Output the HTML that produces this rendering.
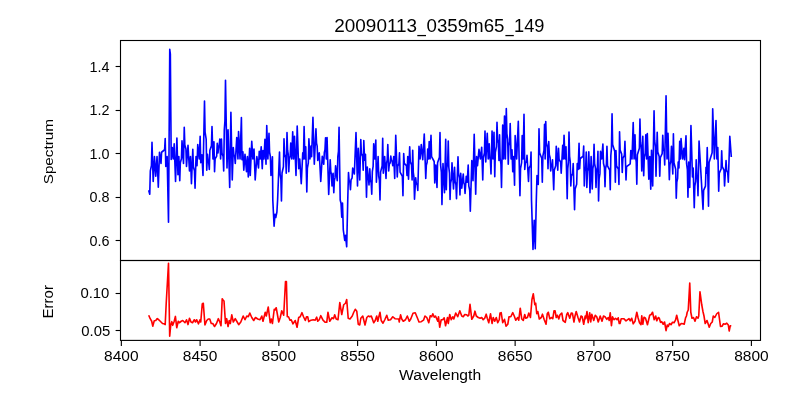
<!DOCTYPE html>
<html><head><meta charset="utf-8"><title>20090113_0359m65_149</title>
<style>
html,body{margin:0;padding:0;background:#fff;}
body{width:800px;height:400px;overflow:hidden;}
svg{display:block;will-change:transform;}
text{font-family:"Liberation Sans",sans-serif;fill:#000;}
</style></head><body>
<svg width="800" height="400" viewBox="0 0 800 400">
<rect x="0" y="0" width="800" height="400" fill="#fff"/>
<defs><clipPath id="c1"><rect x="120.5" y="40.5" width="640" height="220"/></clipPath><clipPath id="c2"><rect x="120.5" y="260.5" width="640" height="80"/></clipPath></defs>
<path clip-path="url(#c1)" d="M148.70,190.20 L149.75,194.25 L150.33,170.85 L151.42,165.65 L152.00,142.25 L153.20,181.50 L154.47,156.50 L155.75,176.25 L157.03,156.50 L158.30,187.20 L159.50,152.30 L161.00,163.50 L161.58,152.25 L164.62,149.75 L165.20,138.50 L165.80,166.50 L167.15,156.50 L168.50,222.20 L169.75,49.40 L170.35,54.00 L171.20,159.45 L172.25,147.50 L173.22,159.00 L174.20,143.75 L175.55,181.50 L176.90,138.05 L177.95,174.75 L178.85,156.50 L179.75,180.75 L180.33,162.75 L181.42,158.75 L182.00,140.75 L183.50,163.50 L184.25,127.25 L184.83,144.91 L185.92,148.84 L186.50,166.50 L188.00,145.25 L189.50,171.00 L190.47,156.50 L191.45,183.75 L192.80,149.30 L193.38,166.83 L194.47,170.72 L195.05,188.25 L196.03,156.50 L197.00,165.75 L197.75,144.50 L199.25,159.00 L200.15,136.25 L200.75,162.75 L201.88,154.75 L203.00,175.50 L204.50,101.00 L205.08,132.16 L206.17,139.09 L206.75,170.25 L207.50,154.25 L208.08,161.11 L208.72,162.64 L209.30,169.50 L209.88,150.15 L211.42,145.85 L212.00,126.50 L212.97,159.00 L213.95,141.80 L214.55,171.75 L215.13,158.95 L216.67,156.10 L217.25,143.30 L218.00,153.00 L218.58,146.68 L219.22,145.27 L219.80,138.95 L220.62,159.00 L221.45,138.95 L222.03,153.37 L223.12,156.58 L223.70,171.00 L224.28,130.16 L224.92,121.09 L225.50,80.25 L227.00,168.00 L228.05,129.80 L229.70,187.50 L230.90,112.25 L232.25,180.00 L233.30,147.50 L233.88,154.70 L234.67,156.30 L235.25,163.50 L236.75,137.45 L237.95,159.00 L238.55,131.45 L240.05,159.00 L241.40,117.50 L242.00,159.75 L242.90,151.75 L243.80,170.25 L245.00,154.25 L246.50,171.75 L247.40,156.50 L248.30,177.00 L249.65,148.25 L250.25,175.50 L251.75,141.20 L252.88,159.00 L254.00,149.00 L255.20,180.00 L256.85,156.50 L258.50,168.00 L259.25,151.25 L260.23,159.00 L261.20,146.75 L262.25,168.75 L263.00,150.50 L263.98,159.00 L264.95,139.25 L266.00,164.25 L266.75,125.45 L267.88,159.00 L269.00,133.25 L269.58,152.26 L270.37,156.49 L270.95,175.50 L272.45,156.75 L272.80,200.00 L274.10,226.30 L275.00,214.30 L275.80,217.50 L276.90,212.00 L277.60,200.00 L279.50,152.00 L280.08,174.05 L280.87,178.95 L281.45,201.00 L282.03,173.01 L283.42,166.79 L284.00,138.80 L284.58,154.30 L285.67,157.75 L286.25,173.25 L287.00,132.50 L287.58,150.16 L288.22,154.09 L288.80,171.75 L289.38,158.81 L290.17,155.94 L290.75,143.00 L291.73,159.00 L292.70,131.75 L293.60,159.00 L294.50,136.25 L296.00,175.50 L297.20,126.05 L298.70,168.75 L299.75,159.00 L301.25,183.75 L302.75,152.75 L303.43,159.00 L304.10,126.50 L304.93,159.00 L305.75,146.75 L306.80,192.00 L307.38,168.06 L308.32,162.74 L308.90,138.80 L309.95,159.00 L311.00,146.00 L311.60,156.75 L312.95,117.20 L314.30,164.25 L315.95,128.75 L316.53,143.04 L317.17,146.21 L317.75,160.50 L319.25,152.75 L320.75,181.50 L322.25,156.25 L323.75,164.25 L324.33,152.32 L324.97,149.68 L325.55,137.75 L326.30,159.00 L327.05,137.45 L328.70,194.55 L330.20,159.75 L330.78,171.56 L331.42,174.19 L332.00,186.00 L333.10,173.25 L333.80,192.75 L334.38,180.60 L335.02,177.90 L335.60,165.75 L337.25,180.75 L337.83,156.68 L338.47,151.32 L339.05,127.25 L340.20,200.00 L341.00,203.30 L341.75,217.30 L342.50,203.00 L343.30,230.00 L344.75,240.50 L345.50,235.30 L346.70,246.80 L347.75,200.00 L348.50,172.50 L349.08,180.26 L349.87,181.99 L350.45,189.75 L351.03,179.96 L352.12,177.79 L352.70,168.00 L354.35,174.00 L356.00,132.50 L357.50,186.00 L358.25,148.25 L359.75,180.00 L360.80,139.55 L361.38,153.37 L362.62,156.44 L363.20,170.25 L363.80,140.45 L364.62,160.25 L365.45,154.25 L366.50,197.25 L367.30,167.00 L367.88,175.10 L368.43,176.90 L369.00,185.00 L369.80,168.75 L370.38,180.22 L371.17,182.78 L371.75,194.25 L372.33,171.53 L373.12,166.47 L373.70,143.75 L374.75,159.00 L375.80,140.00 L376.40,182.25 L376.98,170.66 L377.55,168.09 L378.12,156.50 L378.70,176.05 L379.42,180.40 L380.00,199.95 L380.58,172.16 L382.12,165.99 L382.70,138.20 L383.30,173.25 L384.65,156.50 L386.00,178.50 L386.58,163.20 L387.22,159.80 L387.80,144.50 L388.70,171.00 L389.28,164.25 L390.22,162.75 L390.80,156.00 L391.38,160.39 L392.17,161.36 L392.75,165.75 L393.73,156.50 L394.70,178.50 L395.75,135.20 L397.25,177.00 L397.83,166.09 L398.92,163.66 L399.50,152.75 L400.08,172.10 L402.37,176.40 L402.95,195.75 L403.70,153.50 L404.28,163.40 L406.42,165.60 L407.00,175.50 L407.75,156.50 L408.50,179.25 L409.70,146.75 L410.28,161.71 L411.52,165.04 L412.10,180.00 L412.70,150.20 L413.28,172.25 L413.92,177.15 L414.50,199.20 L415.70,177.75 L416.28,183.49 L417.22,184.76 L417.80,190.50 L419.00,146.30 L420.12,159.00 L421.25,144.50 L422.75,159.75 L424.25,134.00 L425.75,178.50 L426.33,165.22 L427.12,162.28 L427.70,149.00 L428.45,159.00 L429.20,141.50 L430.10,159.00 L431.00,135.20 L431.58,156.71 L434.17,161.49 L434.75,183.00 L435.80,165.00 L437.00,187.50 L437.58,162.75 L439.42,157.25 L440.00,132.50 L440.58,164.94 L441.37,172.16 L441.95,204.60 L443.00,163.50 L444.50,192.75 L445.70,139.25 L446.30,189.75 L446.88,167.84 L447.67,162.97 L448.25,141.05 L448.83,167.35 L449.47,173.20 L450.05,199.50 L450.63,182.96 L451.42,179.29 L452.00,162.75 L453.50,189.00 L454.55,167.25 L455.13,181.43 L455.92,184.57 L456.50,198.75 L458.00,156.75 L458.58,173.96 L459.37,177.79 L459.95,195.00 L460.70,173.25 L461.75,188.25 L463.25,174.00 L463.83,182.78 L464.47,184.72 L465.05,193.50 L466.25,176.25 L467.23,182.25 L468.20,165.00 L468.78,185.79 L469.72,190.41 L470.30,211.20 L471.80,160.50 L473.00,180.75 L474.20,134.30 L475.70,194.25 L476.60,156.50 L477.50,165.75 L479.00,149.30 L480.35,159.00 L481.70,147.20 L482.75,180.00 L483.33,157.95 L484.42,153.05 L485.00,131.00 L485.75,162.00 L487.25,133.25 L488.23,159.00 L489.20,143.75 L489.78,157.36 L490.42,160.39 L491.00,174.00 L492.05,131.00 L493.02,159.00 L494.00,132.20 L494.75,176.70 L495.33,152.22 L496.42,146.78 L497.00,122.30 L497.58,139.49 L498.37,143.31 L498.95,160.50 L499.55,134.75 L500.13,158.49 L500.92,163.76 L501.50,187.50 L502.70,125.00 L503.60,159.00 L504.50,116.00 L505.40,159.00 L506.30,108.50 L506.88,133.59 L507.67,139.16 L508.25,164.25 L508.83,145.91 L509.62,141.84 L510.20,123.50 L511.10,159.00 L512.00,149.75 L512.75,171.75 L513.65,156.50 L514.55,185.25 L515.15,135.50 L516.65,159.00 L518.30,121.25 L519.95,195.75 L520.53,168.64 L521.62,162.61 L522.20,135.50 L523.10,159.00 L524.00,114.20 L524.75,169.50 L525.33,163.09 L526.42,161.66 L527.00,155.25 L528.50,181.50 L529.08,168.22 L530.47,165.28 L531.05,152.00 L531.50,200.00 L533.00,249.50 L534.20,220.30 L535.25,248.80 L536.30,200.00 L537.00,175.50 L538.25,184.50 L539.00,128.75 L539.58,152.82 L541.72,158.18 L542.30,182.25 L542.88,156.15 L543.97,150.35 L544.55,124.25 L545.15,159.00 L545.75,121.55 L546.33,142.79 L547.42,147.51 L548.00,168.75 L548.75,141.50 L549.33,154.78 L550.12,157.72 L550.70,171.00 L551.28,165.94 L551.92,164.81 L552.50,159.75 L553.70,189.75 L554.28,170.20 L555.67,165.85 L556.25,146.30 L557.75,170.25 L558.50,148.25 L559.08,159.50 L560.62,162.00 L561.20,173.25 L562.70,145.25 L563.38,159.00 L564.05,135.20 L565.02,159.00 L566.00,146.75 L567.20,198.75 L567.78,168.74 L568.42,162.06 L569.00,132.05 L569.58,156.33 L570.22,161.72 L570.80,186.00 L571.38,175.88 L572.62,173.62 L573.20,163.50 L574.55,209.70 L575.13,188.91 L576.67,184.29 L577.25,163.50 L578.15,169.50 L579.05,143.30 L579.65,168.75 L580.23,158.51 L583.12,156.24 L583.70,146.00 L584.30,186.00 L584.88,170.70 L585.67,167.30 L586.25,152.00 L586.85,187.50 L587.43,171.39 L588.22,167.81 L588.80,151.70 L590.00,192.75 L591.12,156.50 L592.25,189.00 L592.83,168.84 L593.47,164.36 L594.05,144.20 L594.63,163.69 L595.42,168.01 L596.00,187.50 L596.58,171.19 L597.37,167.56 L597.95,151.25 L598.55,201.00 L599.13,178.61 L599.92,173.64 L600.50,151.25 L601.70,159.00 L602.90,144.05 L603.48,163.27 L604.42,167.53 L605.00,186.75 L605.58,168.55 L606.37,164.50 L606.95,146.30 L607.53,165.85 L609.67,170.20 L610.25,189.75 L610.83,155.55 L611.47,147.95 L612.05,113.75 L612.63,144.57 L614.77,151.43 L615.35,182.25 L615.95,150.50 L616.53,165.80 L618.37,169.20 L618.95,184.50 L619.55,131.75 L620.13,150.09 L621.67,154.16 L622.25,172.50 L622.83,158.41 L624.37,155.28 L624.95,141.20 L626.00,180.00 L626.58,166.72 L630.22,163.78 L630.80,150.50 L632.00,159.00 L633.20,122.45 L634.10,159.00 L635.00,134.75 L635.58,157.00 L636.22,161.95 L636.80,184.20 L637.38,154.86 L639.37,148.34 L639.95,119.00 L640.53,142.40 L641.17,147.60 L641.75,171.00 L642.80,136.25 L643.70,175.80 L644.28,157.33 L645.22,153.22 L645.80,134.75 L646.55,159.00 L647.30,133.55 L648.80,179.25 L649.77,156.50 L650.75,189.30 L651.50,150.20 L652.70,186.00 L654.05,110.75 L654.63,140.22 L655.42,146.78 L656.00,176.25 L657.20,132.20 L657.78,152.02 L659.17,156.43 L659.75,176.25 L660.33,157.78 L662.17,153.67 L662.75,135.20 L663.33,148.61 L664.12,151.59 L664.70,165.00 L666.05,95.75 L667.02,159.00 L668.00,133.25 L669.35,179.70 L669.93,164.67 L670.87,161.33 L671.45,146.30 L672.80,174.00 L673.40,133.70 L673.98,162.77 L675.67,169.23 L676.25,198.30 L676.83,181.97 L677.62,178.34 L678.20,162.00 L678.95,168.00 L679.70,141.20 L680.38,159.00 L681.05,138.50 L682.55,159.00 L683.90,148.25 L684.50,159.75 L686.00,135.80 L686.58,163.45 L687.37,169.60 L687.95,197.25 L688.70,162.00 L689.75,187.50 L690.95,125.45 L692.45,177.00 L693.20,168.00 L694.25,207.75 L694.83,186.15 L695.62,181.35 L696.20,159.75 L696.78,175.95 L697.42,179.55 L698.00,195.75 L699.05,141.05 L703.02,209.32 L703.61,190.39 L705.44,186.18 L706.02,167.25 L706.62,173.25 L707.23,147.50 L708.50,206.25 L709.08,162.40 L712.12,152.65 L712.70,108.80 L714.35,159.00 L716.00,120.50 L716.90,159.00 L717.80,147.50 L718.70,191.25 L719.28,173.05 L721.12,169.00 L721.70,150.80 L722.28,166.64 L723.97,170.16 L724.55,186.00 L726.05,160.50 L726.63,170.29 L727.72,172.46 L728.30,182.25 L729.80,136.25 L731.30,157.00" fill="none" stroke="#0000ff" stroke-width="1.62" stroke-linejoin="round" stroke-linecap="butt"/>
<path clip-path="url(#c2)" d="M148.70,315.25 L150.20,318.70 L151.70,321.25 L152.75,326.20 L154.25,320.80 L155.75,320.50 L157.25,318.55 L158.75,319.75 L160.25,321.25 L162.50,323.50 L164.00,323.80 L165.20,324.55 L166.25,302.50 L168.50,263.30 L169.70,336.30 L170.75,325.00 L171.80,321.70 L172.70,325.30 L174.20,321.25 L175.40,316.45 L176.75,327.70 L178.25,321.25 L179.30,322.75 L181.25,321.25 L182.75,320.50 L185.00,322.75 L186.50,319.75 L188.00,324.55 L189.50,318.25 L191.00,322.00 L192.50,322.75 L194.30,319.75 L195.50,322.00 L196.70,319.75 L198.50,323.80 L200.00,319.75 L200.75,322.00 L202.25,304.00 L203.30,303.25 L204.95,325.00 L206.75,320.50 L208.25,319.00 L209.75,319.00 L211.25,323.50 L212.75,323.50 L214.55,326.50 L216.50,323.50 L218.30,318.70 L219.80,322.00 L221.00,325.75 L222.20,298.75 L223.25,300.25 L224.00,301.00 L225.50,323.50 L226.70,318.70 L228.05,326.50 L229.25,320.50 L230.30,323.50 L231.80,314.80 L233.30,322.00 L235.25,318.70 L237.20,322.00 L238.70,324.70 L240.80,322.00 L243.20,316.00 L245.00,319.75 L246.80,316.00 L248.30,316.75 L249.80,313.00 L251.75,317.50 L253.70,320.50 L255.50,317.50 L257.75,319.00 L260.00,319.75 L261.80,316.00 L263.00,321.25 L265.25,312.25 L266.30,316.00 L268.25,307.00 L270.20,322.75 L271.25,319.00 L272.45,323.50 L274.25,309.25 L275.00,310.00 L276.20,307.75 L278.75,322.00 L280.25,317.50 L281.75,310.75 L283.70,315.25 L285.50,281.50 L286.40,281.50 L287.30,316.75 L288.50,316.75 L290.00,320.20 L291.20,319.75 L293.00,323.80 L295.25,320.50 L297.05,327.25 L298.70,317.50 L300.20,316.75 L302.00,312.70 L303.50,316.75 L305.30,320.50 L306.50,316.75 L307.70,316.75 L308.75,321.70 L311.00,320.20 L313.25,319.75 L315.20,320.20 L316.70,317.20 L317.75,321.25 L319.25,319.75 L320.75,315.70 L323.00,320.20 L325.25,322.30 L326.75,322.30 L327.95,312.25 L329.75,321.25 L332.00,317.80 L333.50,318.70 L334.70,314.80 L336.20,319.00 L338.00,319.75 L339.80,302.50 L341.75,314.50 L343.70,304.75 L345.50,303.25 L346.70,299.50 L348.20,318.25 L350.00,319.00 L352.25,316.00 L353.75,312.25 L355.25,309.25 L356.75,311.20 L358.25,324.25 L359.75,325.00 L360.80,318.25 L362.75,316.00 L365.00,325.00 L366.80,317.50 L368.30,316.00 L369.80,316.75 L371.30,316.00 L373.70,322.75 L375.20,320.50 L376.70,316.00 L377.75,321.25 L380.00,312.25 L381.20,320.50 L383.00,323.20 L384.80,319.75 L386.75,315.25 L388.25,320.20 L390.50,319.75 L392.75,316.75 L395.00,318.70 L398.75,319.00 L399.20,322.00 L400.55,314.80 L401.75,319.00 L403.25,321.25 L405.50,319.75 L407.30,316.00 L409.25,321.25 L410.75,319.00 L413.00,313.30 L415.25,312.70 L417.20,317.50 L419.00,322.00 L421.25,321.70 L423.50,320.20 L425.00,316.00 L426.80,317.50 L428.75,322.75 L430.25,315.70 L431.75,316.75 L432.80,313.75 L434.30,317.20 L435.50,316.00 L437.75,321.25 L438.50,316.75 L439.70,327.25 L441.20,319.75 L442.70,319.75 L444.20,317.80 L445.55,325.75 L447.50,317.50 L448.25,323.50 L449.75,314.50 L451.25,319.75 L452.75,316.75 L453.80,319.00 L455.75,313.00 L457.70,316.75 L459.80,310.75 L461.75,316.00 L463.25,316.75 L464.75,314.50 L466.70,314.80 L467.75,316.00 L468.80,315.25 L470.00,304.30 L471.80,319.30 L473.75,316.00 L474.95,311.20 L476.30,316.00 L478.25,317.50 L480.20,318.25 L481.70,317.50 L483.20,319.75 L484.70,318.25 L486.20,314.20 L487.25,318.25 L488.75,322.75 L490.55,313.75 L492.05,323.50 L493.25,317.50 L494.75,321.25 L496.25,317.50 L497.75,322.75 L499.25,319.75 L500.00,313.00 L501.20,312.70 L502.70,322.75 L504.50,319.30 L506.00,326.20 L507.80,324.25 L509.00,316.75 L510.80,316.75 L512.75,312.70 L514.25,316.00 L515.75,320.20 L517.70,317.50 L518.75,320.20 L520.25,308.20 L521.75,319.00 L523.25,320.50 L524.75,314.50 L525.80,318.25 L527.45,317.50 L528.80,313.00 L530.45,317.50 L531.95,299.50 L533.30,293.80 L534.80,304.75 L535.70,303.25 L536.75,313.75 L537.80,311.50 L539.30,319.00 L541.25,317.50 L542.45,314.20 L544.25,319.75 L546.05,324.25 L547.25,313.75 L548.30,312.25 L549.80,318.70 L551.75,317.50 L552.80,318.70 L554.00,310.75 L555.05,310.75 L556.25,317.50 L557.45,315.25 L558.80,319.00 L560.00,314.80 L561.80,313.00 L563.00,320.50 L565.25,322.30 L566.75,314.50 L567.80,312.70 L569.75,318.25 L571.25,313.00 L572.45,313.30 L573.95,322.00 L575.00,316.00 L576.20,311.50 L578.00,317.50 L579.50,322.00 L581.00,316.00 L582.20,316.75 L583.70,324.25 L585.20,316.00 L585.80,318.70 L587.00,311.50 L588.20,322.75 L589.70,312.70 L590.75,322.00 L591.80,314.20 L593.75,320.50 L595.25,315.25 L596.75,316.75 L598.25,322.00 L600.20,316.00 L602.00,321.25 L603.50,316.00 L605.00,316.75 L606.80,319.30 L608.30,317.50 L609.20,320.50 L610.25,312.70 L611.45,325.75 L612.50,316.75 L614.00,319.75 L615.50,318.25 L617.00,319.75 L618.20,317.80 L619.25,323.50 L620.00,323.50 L621.20,318.70 L623.75,318.70 L626.00,320.80 L629.00,318.70 L630.20,320.80 L631.70,318.25 L633.20,323.80 L635.00,321.25 L636.80,312.25 L638.00,317.50 L639.50,322.75 L641.00,324.70 L641.75,315.70 L642.80,324.25 L644.00,317.20 L645.50,318.25 L647.45,324.70 L649.70,315.25 L651.20,314.50 L652.55,312.25 L654.20,319.75 L655.70,316.00 L656.75,320.80 L658.25,317.50 L659.30,318.25 L660.50,322.30 L661.70,321.70 L663.20,324.25 L664.55,322.00 L666.05,330.70 L667.25,325.00 L668.30,326.50 L669.50,323.50 L671.00,324.70 L672.50,322.30 L674.00,322.75 L675.50,320.20 L676.70,315.25 L677.75,319.75 L679.25,325.75 L681.20,323.50 L683.00,323.80 L684.20,324.25 L685.55,317.80 L686.45,316.00 L687.20,312.25 L688.25,310.00 L689.75,283.00 L690.80,312.25 L692.00,318.25 L693.50,317.50 L695.00,321.25 L696.50,316.75 L698.00,318.25 L698.75,316.00 L699.95,291.70 L701.75,304.75 L702.95,311.50 L704.00,316.00 L705.20,323.50 L707.00,320.50 L709.25,327.25 L710.75,323.50 L712.25,322.00 L713.30,316.00 L714.80,317.50 L716.75,313.75 L718.55,312.25 L720.50,326.50 L722.00,326.20 L723.50,323.80 L725.00,324.25 L726.80,323.20 L728.30,325.00 L729.20,331.00 L730.25,325.75 L731.30,325.75" fill="none" stroke="#ff0000" stroke-width="1.62" stroke-linejoin="round" stroke-linecap="butt"/>
<g stroke="#000" stroke-width="1.11" fill="none" stroke-linecap="square">
<rect x="120.5" y="40.5" width="640" height="220"/>
<rect x="120.5" y="260.5" width="640" height="79.9"/>
</g>
<g stroke="#000" stroke-width="1.11" fill="none">
<line x1="121.35" y1="340.4" x2="121.35" y2="345.9"/>
<line x1="200.11" y1="340.4" x2="200.11" y2="345.9"/>
<line x1="278.86" y1="340.4" x2="278.86" y2="345.9"/>
<line x1="357.62" y1="340.4" x2="357.62" y2="345.9"/>
<line x1="436.38" y1="340.4" x2="436.38" y2="345.9"/>
<line x1="515.13" y1="340.4" x2="515.13" y2="345.9"/>
<line x1="593.89" y1="340.4" x2="593.89" y2="345.9"/>
<line x1="672.64" y1="340.4" x2="672.64" y2="345.9"/>
<line x1="751.40" y1="340.4" x2="751.40" y2="345.9"/>
<line x1="115.6" y1="66.50" x2="120.5" y2="66.50"/>
<line x1="115.6" y1="110.50" x2="120.5" y2="110.50"/>
<line x1="115.6" y1="153.50" x2="120.5" y2="153.50"/>
<line x1="115.6" y1="197.50" x2="120.5" y2="197.50"/>
<line x1="115.6" y1="240.50" x2="120.5" y2="240.50"/>
<line x1="115.6" y1="293.50" x2="120.5" y2="293.50"/>
<line x1="115.6" y1="330.50" x2="120.5" y2="330.50"/>
</g>
<text x="334.3" y="31.9" font-size="17.6" textLength="82.8" lengthAdjust="spacingAndGlyphs">20090113</text>
<text x="426.5" y="31.9" font-size="17.6" textLength="78" lengthAdjust="spacingAndGlyphs">0359m65</text>
<text x="514.0" y="31.9" font-size="17.6" textLength="30.4" lengthAdjust="spacingAndGlyphs">149</text>
<rect x="417.3" y="34.95" width="8.7" height="1.25" fill="#000"/><rect x="505.4" y="34.95" width="8.4" height="1.25" fill="#000"/>
<text x="104.10" y="361" font-size="14" textLength="34.5" lengthAdjust="spacingAndGlyphs">8400</text>
<text x="182.86" y="361" font-size="14" textLength="34.5" lengthAdjust="spacingAndGlyphs">8450</text>
<text x="261.61" y="361" font-size="14" textLength="34.5" lengthAdjust="spacingAndGlyphs">8500</text>
<text x="340.37" y="361" font-size="14" textLength="34.5" lengthAdjust="spacingAndGlyphs">8550</text>
<text x="419.12" y="361" font-size="14" textLength="34.5" lengthAdjust="spacingAndGlyphs">8600</text>
<text x="497.88" y="361" font-size="14" textLength="34.5" lengthAdjust="spacingAndGlyphs">8650</text>
<text x="576.64" y="361" font-size="14" textLength="34.5" lengthAdjust="spacingAndGlyphs">8700</text>
<text x="655.39" y="361" font-size="14" textLength="34.5" lengthAdjust="spacingAndGlyphs">8750</text>
<text x="734.15" y="361" font-size="14" textLength="34.5" lengthAdjust="spacingAndGlyphs">8800</text>
<text x="89.6" y="71.75" font-size="14" textLength="20" lengthAdjust="spacingAndGlyphs">1.4</text>
<text x="89.6" y="115.25" font-size="14" textLength="20" lengthAdjust="spacingAndGlyphs">1.2</text>
<text x="89.6" y="158.75" font-size="14" textLength="20" lengthAdjust="spacingAndGlyphs">1.0</text>
<text x="89.6" y="202.25" font-size="14" textLength="20" lengthAdjust="spacingAndGlyphs">0.8</text>
<text x="89.6" y="245.85" font-size="14" textLength="20" lengthAdjust="spacingAndGlyphs">0.6</text>
<text x="80.4" y="298.25" font-size="14" textLength="29" lengthAdjust="spacingAndGlyphs">0.10</text>
<text x="81.3" y="336.30" font-size="14" textLength="29" lengthAdjust="spacingAndGlyphs">0.05</text>
<text x="399.1" y="379.75" font-size="14" textLength="82" lengthAdjust="spacingAndGlyphs">Wavelength</text>
<text transform="translate(53.25,184.3) rotate(-90)" font-size="13.7" textLength="65.3" lengthAdjust="spacingAndGlyphs">Spectrum</text>
<text transform="translate(53.4,318.5) rotate(-90)" font-size="14" textLength="33.4" lengthAdjust="spacingAndGlyphs">Error</text>
</svg>
</body></html>
